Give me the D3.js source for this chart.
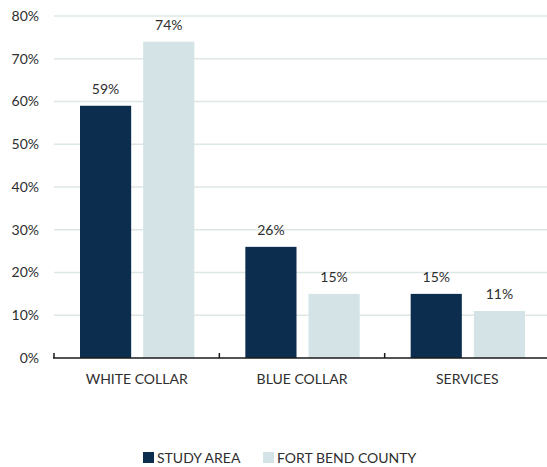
<!DOCTYPE html>
<html>
<head>
<meta charset="utf-8">
<script src="https://cdn.jsdelivr.net/npm/d3@7"></script>
<style>
  html, body { margin: 0; padding: 0; background: #ffffff; }
  svg text { font-family: "Lato", "DejaVu Sans", sans-serif; fill: #2e2e2e; }
</style>
</head>
<body>
<svg id="chart" width="547" height="467"></svg>
<script>
// Occupation mix, share of employed residents
const categories = ["WHITE COLLAR", "BLUE COLLAR", "SERVICES"];
const seriesNames = ["STUDY AREA", "FORT BEND COUNTY"];
const studyArea = [59, 26, 15];
const fortBendCounty = [74, 15, 11];
const yTicks = [0, 10, 20, 30, 40, 50, 60, 70, 80];
const colors = ["#0c2d4e", "#d4e3e6"];

const svg = d3.select("#chart");
const margin = { left: 54, right: -3, top: 16, bottom: 109 };
const width = 547 - margin.left - margin.right;
const height = 467 - margin.top - margin.bottom;

const g = svg.append("g").attr("transform", `translate(${margin.left},${margin.top})`);

const x0 = d3.scaleBand().domain(categories).range([0, width]).paddingInner(0).paddingOuter(0);
const x1 = d3.scaleBand().domain(seriesNames).range([26, x0.bandwidth() - 25]).paddingInner(0.19).paddingOuter(0);
const y = d3.scaleLinear().domain([0, 80]).range([height, 0]);

// horizontal gridlines
g.append("g")
  .selectAll("line")
  .data(yTicks.filter(d => d > 0))
  .join("line")
  .attr("x1", 0).attr("x2", width + 10)
  .attr("y1", d => y(d)).attr("y2", d => y(d))
  .attr("stroke", "#dde8e5").attr("stroke-width", 1.5);

// y axis labels
const yAxis = d3.axisLeft(y).tickValues(yTicks).tickFormat(d => d + "%").tickSize(0).tickPadding(15);
g.append("g").call(yAxis)
  .call(a => a.select(".domain").remove())
  .selectAll("text").attr("font-size", 14).style("fill", "#2e2e2e");

// bars
const rows = categories.map((c, i) => ({ cat: c, vals: [studyArea[i], fortBendCounty[i]] }));
const groups = g.selectAll(".grp").data(rows).join("g")
  .attr("transform", d => `translate(${x0(d.cat)},0)`);

groups.selectAll("rect")
  .data(d => d.vals.map((v, k) => ({ name: seriesNames[k], v, k })))
  .join("rect")
  .attr("x", d => x1(d.name))
  .attr("width", x1.bandwidth())
  .attr("y", d => y(d.v))
  .attr("height", d => height - y(d.v))
  .attr("fill", d => colors[d.k]);

groups.selectAll(".val")
  .data(d => d.vals.map((v, k) => ({ name: seriesNames[k], v, k })))
  .join("text")
  .attr("class", "val")
  .attr("x", d => x1(d.name) + x1.bandwidth() / 2)
  .attr("y", d => y(d.v) - 12)
  .attr("text-anchor", "middle")
  .attr("font-size", 14)
  .text(d => d.v + "%");

// x axis baseline with category dividers
const xAxis = d3.axisBottom(x0).tickSize(0).tickPadding(16);
const xa = g.append("g").attr("transform", `translate(0,${height})`).call(xAxis);
xa.select(".domain").remove();
xa.selectAll("text").attr("font-size", 14).style("fill", "#2e2e2e");

g.append("line")
  .attr("x1", -1).attr("x2", width + 10)
  .attr("y1", height).attr("y2", height)
  .attr("stroke", "#1a1a1a").attr("stroke-width", 1.5);

g.append("g").selectAll("line")
  .data(categories.map(c => x0(c)))
  .join("line")
  .attr("x1", d => d).attr("x2", d => d)
  .attr("y1", height - 5).attr("y2", height)
  .attr("stroke", "#1a1a1a").attr("stroke-width", 1.5);

// legend
const legend = svg.append("g").attr("transform", "translate(143,452)");
const legendX = [0, 120];
seriesNames.forEach((name, k) => {
  const item = legend.append("g").attr("transform", `translate(${legendX[k]},0)`);
  item.append("rect").attr("width", 11).attr("height", 11).attr("fill", colors[k]);
  item.append("text").attr("x", 14).attr("y", 11).attr("font-size", 14).text(name);
});
</script>
</body>
</html>
